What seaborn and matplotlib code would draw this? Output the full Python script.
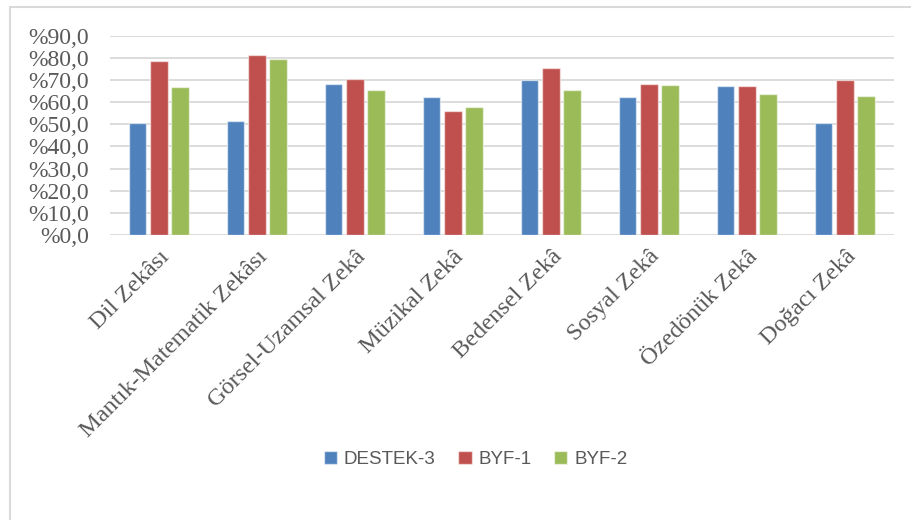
import pandas as pd
import numpy as np
import matplotlib
matplotlib.use('Agg')
import matplotlib.pyplot as plt
import seaborn as sns
from matplotlib.ticker import FuncFormatter, MultipleLocator
from matplotlib.patches import Rectangle

# data
categories = ['Dil Zekâsı', 'Mantık-Matematik Zekâsı', 'Görsel-Uzamsal Zekâ', 'Müzikal Zekâ',
              'Bedensel Zekâ', 'Sosyal Zekâ', 'Özedönük Zekâ', 'Doğacı Zekâ']
groups = ['DESTEK-3', 'BYF-1', 'BYF-2']
destek3 = [50.5, 51.4, 68.1, 62.3, 70.0, 62.3, 67.4, 50.5]
byf1 = [78.4, 81.3, 70.6, 56.2, 75.5, 68.3, 67.4, 69.8]
byf2 = [66.9, 79.4, 65.6, 58.0, 65.6, 67.7, 63.9, 62.7]
colors = ['#4F81BD', '#C0504D', '#9BBB59']

df = pd.DataFrame({
    'Zeka': categories * 3,
    'Grup': np.repeat(groups, len(categories)),
    'Yuzde': destek3 + byf1 + byf2,
})

sns.set_style('white')
plt.rcParams['font.family'] = ['Liberation Serif', 'DejaVu Serif']

fig = plt.figure(figsize=(9.11, 5.20), dpi=100)
ax = fig.add_axes([0.1207, 0.548, 0.8606, 0.3832])

sns.barplot(data=df, x='Zeka', y='Yuzde', hue='Grup', order=categories, hue_order=groups,
            palette=colors, width=0.65, gap=0.18, edgecolor=(1, 1, 1, 0.55), linewidth=1,
            saturation=1, legend=True, ax=ax)

ax.set_ylim(0, 90)
ax.yaxis.set_major_locator(MultipleLocator(10))
ax.yaxis.set_major_formatter(FuncFormatter(lambda v, p: '%' + f'{v:.1f}'.replace('.', ',')))
ax.grid(axis='y', color='#D9D9D9', linewidth=1.3)
ax.set_axisbelow(True)
for s in ax.spines.values():
    s.set_visible(False)
ax.set_xlabel('')
ax.set_ylabel('')
ax.tick_params(axis='both', length=0, colors='#595959')
ax.tick_params(axis='y', labelsize=17, pad=15)
ax.tick_params(axis='x', labelsize=17.5, pad=8)
plt.setp(ax.get_xticklabels(), rotation=45, ha='right', rotation_mode='anchor')

handles, labels = ax.get_legend_handles_labels()
ax.get_legend().remove()
fig.legend(handles, labels, loc='center', bbox_to_anchor=(0.522, 0.117), ncol=3, frameon=False,
           prop={'family': 'Liberation Sans', 'size': 13.5}, labelcolor='#595959',
           handlelength=0.72, handleheight=0.72, handletextpad=0.36, columnspacing=1.2)

# light frame around the chart area
fig.patches.append(Rectangle((10 / 911, -0.05), 1.2, 1.05 - 7 / 520, transform=fig.transFigure,
                             fill=False, edgecolor='#D9D9D9', linewidth=1.5))

fig.savefig('out.png', dpi=100)
